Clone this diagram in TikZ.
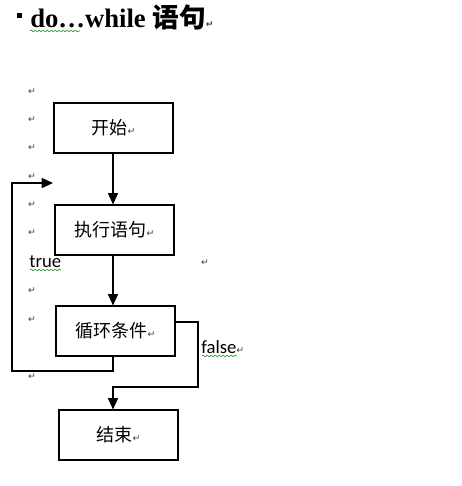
\documentclass[tikz,border=0pt]{standalone}
\usepackage{fontspec}
\setmainfont{Liberation Serif}
\newfontfamily\cjk{Noto Sans CJK SC}
\newfontfamily\calib{Carlito}
\newfontfamily\dejavu{DejaVu Sans}
\usetikzlibrary{arrows.meta, calc, decorations.pathmorphing}
\newcommand{\pmark}{{\dejavu\fontsize{7}{7}\selectfont\textcolor{darkgray}{↵}}}

\begin{document}
\begin{tikzpicture}[x=0.75pt, y=-0.75pt,
    box/.style={draw, line width=0.8pt, minimum width=89.25pt, minimum height=37.5pt, inner sep=0pt, font=\cjk\fontsize{13.5}{13.5}\selectfont},
    arr/.style={line width=1pt, -{Triangle[width=7.5pt,length=8.5pt]}},
    lbl/.style={anchor=west, inner sep=0pt, font=\calib\fontsize{14}{14}\selectfont},
    pm/.style={inner sep=0pt, font=\dejavu\fontsize{7}{7}\selectfont, text=darkgray},
    squig/.style={draw=green!50!black, line width=0.4pt, decorate, decoration={snake, amplitude=0.6pt, segment length=3pt}}]
    \useasboundingbox (0,0) rectangle (461,486);

    \fill (17,13) rectangle (22,18);
    \node[anchor=base west, inner sep=0pt, font=\fontsize{20}{20}\selectfont\bfseries] (title) at (30,27) {do…while {\cjk 语句}\pmark};
    \draw[squig] (30,31) -- (80,31);

    \node[box] (start) at (113.5,128) {开始\pmark};
    \node[box] (body) at (114.5,230) {执行语句\pmark};
    \node[box] (cond) at (115.5,331) {循环条件\pmark};
    \node[box] (stop) at (118.5,435) {结束\pmark};

    \coordinate (axis) at (113,0);
    \coordinate (loopbot) at (12,371);
    \coordinate (loopend) at (53,183);
    \coordinate (turn) at (198,387);

    \draw[arr] (start.south -| axis) -- (body.north -| axis);
    \draw[arr] (body.south -| axis) -- (cond.north -| axis);
    \draw[arr] (cond.south -| axis) |- (loopbot) |- (loopend);
    \draw[arr] ([yshift=6.75pt]cond.east) -| (turn) -| (stop.north -| axis);

    \node[lbl] (true) at (29,262) {true};
    \draw[squig] (30,270) -- (61,270);
    \node[lbl] (false) at (201,347) {false\pmark};
    \draw[squig] (202,356) -- (237,356);

    \foreach \y in {92,120,148,177,205,233,291,320,377}
        \node[pm] (pm\y) at (32,\y) {↵};
    \node[pm] (pmr) at (205,263) {↵};
\end{tikzpicture}
\end{document}
